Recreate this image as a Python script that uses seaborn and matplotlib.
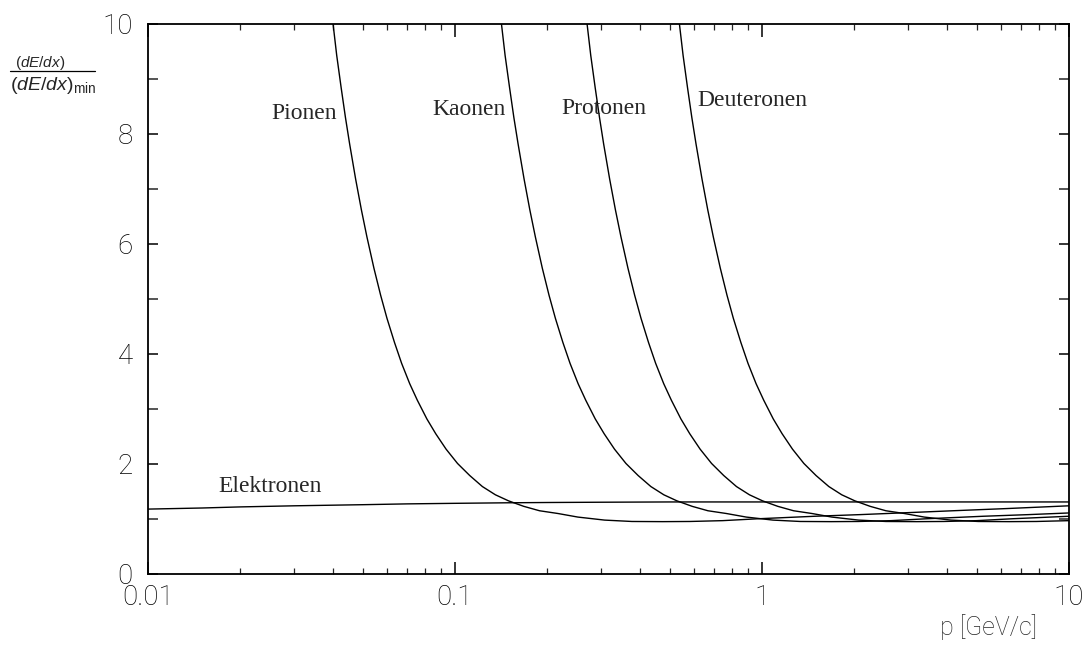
import numpy as np
import pandas as pd
import seaborn as sns
import matplotlib
matplotlib.use("Agg")
import matplotlib.pyplot as plt
from matplotlib.ticker import MultipleLocator, LogLocator, NullFormatter, FixedLocator, FixedFormatter
from matplotlib.lines import Line2D

# ---- data ----
pion_p = [0.04007, 0.04118, 0.04258, 0.04397, 0.04537, 0.04746, 0.04956, 0.05165, 0.05444, 0.05724,
          0.06003, 0.06352, 0.06701, 0.0712, 0.07538, 0.08097, 0.08655, 0.09353, 0.1019, 0.1117,
          0.1228, 0.1354, 0.1494, 0.1675, 0.1885, 0.2164, 0.2513, 0.3071, 0.3769, 0.4746,
          0.5821, 0.7441, 0.9772, 1.488, 2.094, 2.828, 4.188, 6.282, 10.0]
pion_y = [10.0, 9.43, 8.84, 8.30, 7.82, 7.18, 6.62, 6.13, 5.56, 5.07,
          4.65, 4.21, 3.83, 3.46, 3.16, 2.82, 2.55, 2.27, 2.01, 1.79,
          1.59, 1.44, 1.33, 1.23, 1.15, 1.10, 1.035, 0.98, 0.955, 0.952,
          0.955, 0.97, 1.005, 1.05, 1.08, 1.11, 1.15, 1.19, 1.24]

kaon_p = [0.1417, 0.1456, 0.1506, 0.1555, 0.1605, 0.1679, 0.1753, 0.1827, 0.1925, 0.2024,
          0.2123, 0.2246, 0.2370, 0.2518, 0.2666, 0.2863, 0.3061, 0.3308, 0.3604, 0.3950,
          0.4345, 0.4789, 0.5283, 0.5924, 0.6665, 0.7652, 0.8887, 1.086, 1.333, 1.679,
          2.059, 2.631, 3.456, 5.263, 7.406, 10.0]
kaon_y = [10.0, 9.43, 8.84, 8.30, 7.82, 7.18, 6.62, 6.13, 5.56, 5.07,
          4.65, 4.21, 3.83, 3.46, 3.16, 2.82, 2.55, 2.27, 2.01, 1.79,
          1.59, 1.44, 1.33, 1.23, 1.15, 1.10, 1.035, 0.98, 0.955, 0.952,
          0.955, 0.97, 1.005, 1.05, 1.08, 1.11]

proton_p = [0.2693, 0.2768, 0.2862, 0.2956, 0.3049, 0.3190, 0.3331, 0.3472, 0.3659, 0.3847,
            0.4035, 0.4269, 0.4504, 0.4785, 0.5067, 0.5442, 0.5817, 0.6287, 0.6850, 0.7506,
            0.8257, 0.9102, 1.004, 1.126, 1.267, 1.454, 1.689, 2.064, 2.533, 3.190,
            3.913, 5.001, 6.568, 10.0]
proton_y = [10.0, 9.43, 8.84, 8.30, 7.82, 7.18, 6.62, 6.13, 5.56, 5.07,
            4.65, 4.21, 3.83, 3.46, 3.16, 2.82, 2.55, 2.27, 2.01, 1.79,
            1.59, 1.44, 1.33, 1.23, 1.15, 1.10, 1.035, 0.98, 0.955, 0.952,
            0.955, 0.97, 1.005, 1.05]

deuteron_p = [0.5383, 0.5533, 0.5721, 0.5908, 0.6096, 0.6377, 0.6658, 0.6940, 0.7315, 0.7690,
              0.8065, 0.8534, 0.9003, 0.9566, 1.013, 1.088, 1.163, 1.257, 1.369, 1.500,
              1.651, 1.819, 2.007, 2.251, 2.532, 2.907, 3.376, 4.126, 5.064, 6.377,
              7.821, 10.0]
deuteron_y = [10.0, 9.43, 8.84, 8.30, 7.82, 7.18, 6.62, 6.13, 5.56, 5.07,
              4.65, 4.21, 3.83, 3.46, 3.16, 2.82, 2.55, 2.27, 2.01, 1.79,
              1.59, 1.44, 1.33, 1.23, 1.15, 1.10, 1.035, 0.98, 0.955, 0.952,
              0.955, 0.97]

electron_p = [0.01, 0.015, 0.02, 0.03, 0.05, 0.07, 0.1, 0.15, 0.2, 0.3, 0.5, 1.0, 2.0, 5.0, 10.0]
electron_y = [1.18, 1.20, 1.22, 1.24, 1.26, 1.275, 1.285, 1.295, 1.30, 1.305, 1.31, 1.31, 1.31, 1.31, 1.31]

species = ["Elektronen", "Pionen", "Kaonen", "Protonen", "Deuteronen"]
x_ticks = [0.01, 0.1, 1, 10]
x_ticklabels = ["0.01", "0.1", "1", "10"]
y_ticks = [0, 2, 4, 6, 8, 10]

frames = []
for name, p, y in [("Elektronen", electron_p, electron_y), ("Pionen", pion_p, pion_y),
                   ("Kaonen", kaon_p, kaon_y), ("Protonen", proton_p, proton_y),
                   ("Deuteronen", deuteron_p, deuteron_y)]:
    frames.append(pd.DataFrame({"p": p, "dedx": y, "species": name}))
df = pd.concat(frames, ignore_index=True)

# ---- style ----
sns.set_theme(style="ticks")
plt.rcParams["font.family"] = ["Roboto", "DejaVu Sans"]
plt.rcParams["mathtext.fontset"] = "custom"
plt.rcParams["mathtext.rm"] = "Liberation Sans"
plt.rcParams["mathtext.it"] = "Liberation Sans:italic"

fig = plt.figure(figsize=(10.88, 6.62), dpi=100)
ax = fig.add_axes([148 / 1088, 1 - 574 / 662, (1069 - 148) / 1088, (574 - 24) / 662])

sns.lineplot(data=df, x="p", y="dedx", hue="species", hue_order=species,
             palette=["black"] * 5, linewidth=1.0, legend=False, ax=ax,
             sort=False, estimator=None)

ax.set_xscale("log")
ax.set_xlim(0.01, 10)
ax.set_ylim(0, 10)
ax.xaxis.set_major_locator(FixedLocator(x_ticks))
ax.xaxis.set_major_formatter(FixedFormatter(x_ticklabels))
ax.xaxis.set_minor_locator(LogLocator(base=10, subs=np.arange(2, 10)))
ax.xaxis.set_minor_formatter(NullFormatter())
ax.yaxis.set_major_locator(FixedLocator(y_ticks))
ax.yaxis.set_minor_locator(MultipleLocator(1))
ax.set_xlabel("")
ax.set_ylabel("")

for s in ax.spines.values():
    s.set_linewidth(1.3)
    s.set_color("black")

ax.tick_params(axis="x", which="major", direction="in", length=9, width=1.1,
               top=True, bottom=True, pad=7, labelsize=20, colors="black")
ax.tick_params(axis="x", which="minor", direction="in", length=4, width=0.9,
               top=True, bottom=True)
ax.tick_params(axis="y", which="major", direction="in", length=7, width=1.1,
               left=True, right=True, pad=11, labelsize=20, colors="black")
ax.tick_params(axis="y", which="minor", direction="in", length=7, width=1.1,
               left=True, right=True)
for lab in ax.get_xticklabels() + ax.get_yticklabels():
    lab.set_fontweight("light")

# curve labels
serif = ["Liberation Serif", "DejaVu Serif"]
ax.text(0.04126, 8.38, "Pionen", family=serif, fontsize=17, ha="right", va="center")
ax.text(0.1466, 8.44, "Kaonen", family=serif, fontsize=17, ha="right", va="center")
ax.text(0.2215, 8.47, "Protonen", family=serif, fontsize=17, ha="left", va="center")
ax.text(0.614, 8.6, "Deuteronen", family=serif, fontsize=17, ha="left", va="center")
ax.text(0.017, 1.6, "Elektronen", family=serif, fontsize=17, ha="left", va="center")

# x axis title
fig.text(988 / 1088, 1 - 627 / 662, "p [GeV/c]", fontsize=18, fontweight="light",
         ha="center", va="center")

# y axis title as a fraction
fig.text(40 / 1088, 1 - 63 / 662, r"$(dE/dx)$", fontsize=11, ha="center", va="center")
fig.add_artist(Line2D([10 / 1088, 95 / 1088], [1 - 71 / 662, 1 - 71 / 662],
                      color="black", linewidth=0.9, transform=fig.transFigure))
fig.text(10 / 1088, 1 - 86 / 662, r"$(dE/dx)_{\mathrm{min}}$", fontsize=14,
         ha="left", va="center")

fig.savefig("out.png", dpi=100, facecolor="white")
